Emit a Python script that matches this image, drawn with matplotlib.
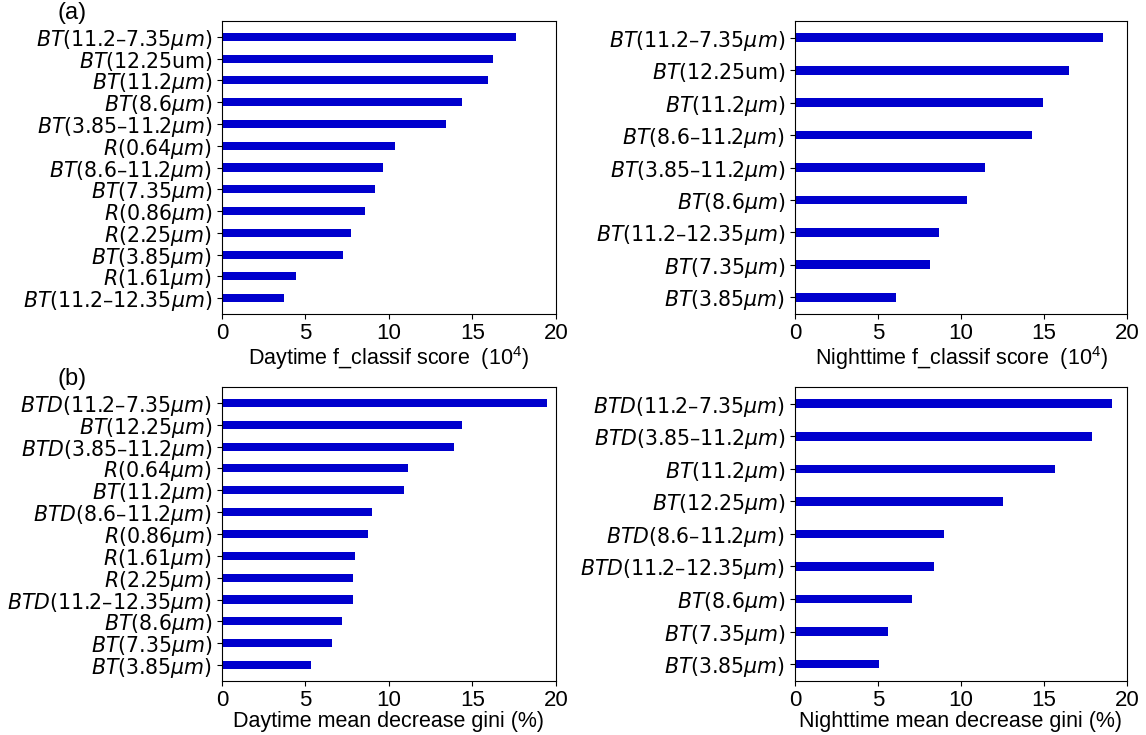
import matplotlib
matplotlib.use("Agg")
import matplotlib.pyplot as plt
import numpy as np

plt.rcParams['font.family'] = ['Liberation Sans', 'DejaVu Sans']
plt.rcParams['mathtext.fontset'] = 'custom'
plt.rcParams['mathtext.rm'] = 'Liberation Sans'
plt.rcParams['mathtext.it'] = 'Liberation Sans:italic'

# feature names (top to bottom) and scores for each panel
day_f_names = [r'$BT$(11.2–7.35$\mu m$)', r'$BT$(12.25um)', r'$BT$(11.2$\mu m$)',
               r'$BT$(8.6$\mu m$)', r'$BT$(3.85–11.2$\mu m$)', r'$R$(0.64$\mu m$)',
               r'$BT$(8.6–11.2$\mu m$)', r'$BT$(7.35$\mu m$)', r'$R$(0.86$\mu m$)',
               r'$R$(2.25$\mu m$)', r'$BT$(3.85$\mu m$)', r'$R$(1.61$\mu m$)',
               r'$BT$(11.2–12.35$\mu m$)']
day_f_score = [17.58, 16.24, 15.93, 14.37, 13.43, 10.35, 9.67, 9.14, 8.59, 7.74, 7.25, 4.46, 3.71]

night_f_names = [r'$BT$(11.2–7.35$\mu m$)', r'$BT$(12.25um)', r'$BT$(11.2$\mu m$)',
                 r'$BT$(8.6–11.2$\mu m$)', r'$BT$(3.85–11.2$\mu m$)', r'$BT$(8.6$\mu m$)',
                 r'$BT$(11.2–12.35$\mu m$)', r'$BT$(7.35$\mu m$)', r'$BT$(3.85$\mu m$)']
night_f_score = [18.56, 16.52, 14.93, 14.29, 11.43, 10.37, 8.70, 8.11, 6.07]

day_gini_names = [r'$BTD$(11.2–7.35$\mu m$)', r'$BT$(12.25$\mu m$)', r'$BTD$(3.85–11.2$\mu m$)',
                  r'$R$(0.64$\mu m$)', r'$BT$(11.2$\mu m$)', r'$BTD$(8.6–11.2$\mu m$)',
                  r'$R$(0.86$\mu m$)', r'$R$(1.61$\mu m$)', r'$R$(2.25$\mu m$)',
                  r'$BTD$(11.2–12.35$\mu m$)', r'$BT$(8.6$\mu m$)', r'$BT$(7.35$\mu m$)',
                  r'$BT$(3.85$\mu m$)']
day_gini = [19.49, 14.35, 13.87, 11.14, 10.92, 8.99, 8.75, 7.96, 7.85, 7.85, 7.21, 6.59, 5.34]

night_gini_names = [r'$BTD$(11.2–7.35$\mu m$)', r'$BTD$(3.85–11.2$\mu m$)', r'$BT$(11.2$\mu m$)',
                    r'$BT$(12.25$\mu m$)', r'$BTD$(8.6–11.2$\mu m$)', r'$BTD$(11.2–12.35$\mu m$)',
                    r'$BT$(8.6$\mu m$)', r'$BT$(7.35$\mu m$)', r'$BT$(3.85$\mu m$)']
night_gini = [19.09, 17.87, 15.66, 12.51, 8.97, 8.39, 7.04, 5.58, 5.07]

xlabels = ['Daytime f_classif score  ($10^4$)', 'Nighttime f_classif score  ($10^4$)',
           'Daytime mean decrease gini (%)', 'Nighttime mean decrease gini (%)']

fig = plt.figure(figsize=(11.46, 7.35), dpi=100)
boxes = [[0.1937, 0.5728, 0.2914, 0.3986], [0.6937, 0.5728, 0.2897, 0.3986],
         [0.1937, 0.0735, 0.2914, 0.4000], [0.6937, 0.0735, 0.2897, 0.4000]]
panels = [(day_f_names, day_f_score), (night_f_names, night_f_score),
          (day_gini_names, day_gini), (night_gini_names, night_gini)]

for box, (names, vals), xl in zip(boxes, panels, xlabels):
    ax = fig.add_axes(box)
    n = len(names)
    y = np.arange(n)[::-1]
    h = 0.37 if n > 10 else 0.27
    gap = 0.73 if n > 10 else 0.52
    ax.barh(y, vals, height=h, color='mediumblue')
    ax.set_yticks(y)
    # the band labels use DejaVu throughout, the rest of the figure is Arial-like
    ax.set_yticklabels(names, fontsize=14.8, family='DejaVu Sans',
                       math_fontfamily='dejavusans')
    ax.set_ylim(-gap, n - 1 + gap)
    ax.set_xlim(0, 20)
    ax.set_xticks([0, 5, 10, 15, 20])
    ax.tick_params(axis='x', labelsize=16, pad=3)
    ax.set_xlabel(xl, fontsize=15.5, labelpad=0)

fig.text(0.050, 0.997, '(a)', fontsize=17, va='top')
fig.text(0.050, 0.500, '(b)', fontsize=17, va='top')

fig.savefig('out.png', dpi=100)
